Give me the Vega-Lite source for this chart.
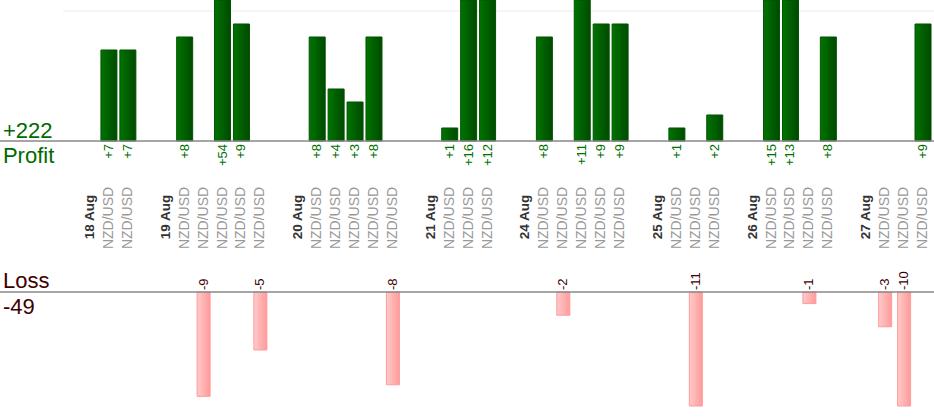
{
  "$schema": "https://vega.github.io/schema/vega-lite/v6.json",
  "width": 934,
  "height": 420,
  "padding": 0,
  "autosize": {"type": "none"},
  "datasets": {
    "trades": [
      {"slot": 1, "date": "18 Aug", "pair": "NZD/USD", "pnl": 7},
      {"slot": 2, "date": "18 Aug", "pair": "NZD/USD", "pnl": 7},
      {"slot": 5, "date": "19 Aug", "pair": "NZD/USD", "pnl": 8},
      {"slot": 6, "date": "19 Aug", "pair": "NZD/USD", "pnl": -9},
      {"slot": 7, "date": "19 Aug", "pair": "NZD/USD", "pnl": 54},
      {"slot": 8, "date": "19 Aug", "pair": "NZD/USD", "pnl": 9},
      {"slot": 9, "date": "19 Aug", "pair": "NZD/USD", "pnl": -5},
      {"slot": 12, "date": "20 Aug", "pair": "NZD/USD", "pnl": 8},
      {"slot": 13, "date": "20 Aug", "pair": "NZD/USD", "pnl": 4},
      {"slot": 14, "date": "20 Aug", "pair": "NZD/USD", "pnl": 3},
      {"slot": 15, "date": "20 Aug", "pair": "NZD/USD", "pnl": 8},
      {"slot": 16, "date": "20 Aug", "pair": "NZD/USD", "pnl": -8},
      {"slot": 19, "date": "21 Aug", "pair": "NZD/USD", "pnl": 1},
      {"slot": 20, "date": "21 Aug", "pair": "NZD/USD", "pnl": 16},
      {"slot": 21, "date": "21 Aug", "pair": "NZD/USD", "pnl": 12},
      {"slot": 24, "date": "24 Aug", "pair": "NZD/USD", "pnl": 8},
      {"slot": 25, "date": "24 Aug", "pair": "NZD/USD", "pnl": -2},
      {"slot": 26, "date": "24 Aug", "pair": "NZD/USD", "pnl": 11},
      {"slot": 27, "date": "24 Aug", "pair": "NZD/USD", "pnl": 9},
      {"slot": 28, "date": "24 Aug", "pair": "NZD/USD", "pnl": 9},
      {"slot": 31, "date": "25 Aug", "pair": "NZD/USD", "pnl": 1},
      {"slot": 32, "date": "25 Aug", "pair": "NZD/USD", "pnl": -11},
      {"slot": 33, "date": "25 Aug", "pair": "NZD/USD", "pnl": 2},
      {"slot": 36, "date": "26 Aug", "pair": "NZD/USD", "pnl": 15},
      {"slot": 37, "date": "26 Aug", "pair": "NZD/USD", "pnl": 13},
      {"slot": 38, "date": "26 Aug", "pair": "NZD/USD", "pnl": -1},
      {"slot": 39, "date": "26 Aug", "pair": "NZD/USD", "pnl": 8},
      {"slot": 42, "date": "27 Aug", "pair": "NZD/USD", "pnl": -3},
      {"slot": 43, "date": "27 Aug", "pair": "NZD/USD", "pnl": -10},
      {"slot": 44, "date": "27 Aug", "pair": "NZD/USD", "pnl": 9}
    ],
    "days": [
      {"slot": 0, "date": "18 Aug"},
      {"slot": 4, "date": "19 Aug"},
      {"slot": 11, "date": "20 Aug"},
      {"slot": 18, "date": "21 Aug"},
      {"slot": 23, "date": "24 Aug"},
      {"slot": 30, "date": "25 Aug"},
      {"slot": 35, "date": "26 Aug"},
      {"slot": 41, "date": "27 Aug"}
    ]
  },
  "layer": [
    {
      "layer": [
        {
          "data": {"values": [{}]},
          "mark": {"type": "rule", "color": "#ebebeb", "strokeWidth": 1},
          "encoding": {
            "x": {"datum": -1.43, "type": "quantitative", "scale": {"domain": [-4.754, 44.58], "nice": false, "padding": 0}, "axis": null},
            "x2": {"datum": 44.58},
            "y": {"datum": 10, "type": "quantitative", "scale": {"domain": [0, 10.846], "range": [141, 0], "clamp": true, "nice": false, "padding": 0}, "axis": null}
          }
        },
        {
          "data": {"name": "trades"},
          "transform": [{"filter": "datum.pnl > 0"}],
          "mark": {
            "type": "bar",
            "width": 16,
            "fill": {
              "gradient": "linear", "x1": 0, "y1": 0, "x2": 1, "y2": 0,
              "stops": [{"offset": 0, "color": "#007400"}, {"offset": 1, "color": "#004a00"}]
            },
            "stroke": "#005400",
            "strokeWidth": 1
          },
          "encoding": {
            "x": {"field": "slot", "type": "quantitative", "scale": {"domain": [-4.754, 44.58], "nice": false, "padding": 0}, "axis": null},
            "y": {"field": "pnl", "type": "quantitative", "scale": {"domain": [0, 10.846], "range": [141, 0], "clamp": true, "nice": false, "padding": 0}, "axis": null}
          }
        },
        {
          "data": {"values": [{}]},
          "mark": {"type": "rule", "color": "#888888", "strokeWidth": 1.5},
          "encoding": {
            "y": {"datum": 0, "type": "quantitative", "scale": {"domain": [0, 10.846], "range": [141, 0], "clamp": true, "nice": false, "padding": 0}, "axis": null}
          }
        },
        {
          "data": {"name": "trades"},
          "transform": [{"filter": "datum.pnl > 0"}],
          "mark": {"type": "text", "angle": 270, "align": "right", "baseline": "middle", "dx": -3, "fontSize": 13, "color": "#007000"},
          "encoding": {
            "x": {"field": "slot", "type": "quantitative", "scale": {"domain": [-4.754, 44.58], "nice": false, "padding": 0}, "axis": null},
            "y": {"datum": 0, "type": "quantitative", "scale": {"domain": [0, 10.846], "range": [141, 0], "clamp": true, "nice": false, "padding": 0}, "axis": null},
            "text": {"field": "pnl", "type": "quantitative", "format": "+d"}
          }
        },
        {
          "data": {"name": "trades"},
          "mark": {"type": "text", "angle": 270, "align": "center", "baseline": "middle", "dx": -77, "fontSize": 14, "color": "#999999"},
          "encoding": {
            "x": {"field": "slot", "type": "quantitative", "scale": {"domain": [-4.754, 44.58], "nice": false, "padding": 0}, "axis": null},
            "y": {"datum": 0, "type": "quantitative", "scale": {"domain": [0, 10.846], "range": [141, 0], "clamp": true, "nice": false, "padding": 0}, "axis": null},
            "text": {"field": "pair", "type": "nominal"}
          }
        },
        {
          "data": {"name": "days"},
          "mark": {"type": "text", "angle": 270, "align": "center", "baseline": "middle", "dx": -76, "fontSize": 13.5, "fontWeight": "bold", "color": "#333333"},
          "encoding": {
            "x": {"field": "slot", "type": "quantitative", "scale": {"domain": [-4.754, 44.58], "nice": false, "padding": 0}, "axis": null},
            "y": {"datum": 0, "type": "quantitative", "scale": {"domain": [0, 10.846], "range": [141, 0], "clamp": true, "nice": false, "padding": 0}, "axis": null},
            "text": {"field": "date", "type": "nominal"}
          }
        },
        {
          "data": {"name": "trades"},
          "transform": [
            {"filter": "datum.pnl > 0"},
            {"aggregate": [{"op": "sum", "field": "pnl", "as": "total"}]}
          ],
          "mark": {"type": "text", "align": "left", "baseline": "alphabetic", "dy": -3, "fontSize": 22, "color": "#006a00"},
          "encoding": {
            "x": {"datum": -4.6, "type": "quantitative", "scale": {"domain": [-4.754, 44.58], "nice": false, "padding": 0}, "axis": null},
            "y": {"datum": 0, "type": "quantitative", "scale": {"domain": [0, 10.846], "range": [141, 0], "clamp": true, "nice": false, "padding": 0}, "axis": null},
            "text": {"field": "total", "type": "quantitative", "format": "+d"}
          }
        },
        {
          "data": {"values": [{"label": "Profit"}]},
          "mark": {"type": "text", "align": "left", "baseline": "alphabetic", "dy": 22, "fontSize": 22, "color": "#006a00"},
          "encoding": {
            "x": {"datum": -4.6, "type": "quantitative", "scale": {"domain": [-4.754, 44.58], "nice": false, "padding": 0}, "axis": null},
            "y": {"datum": 0, "type": "quantitative", "scale": {"domain": [0, 10.846], "range": [141, 0], "clamp": true, "nice": false, "padding": 0}, "axis": null},
            "text": {"field": "label", "type": "nominal"}
          }
        }
      ]
    },
    {
      "layer": [
        {
          "data": {"name": "trades"},
          "transform": [{"filter": "datum.pnl < 0"}],
          "mark": {
            "type": "bar",
            "width": 13,
            "fill": {
              "gradient": "linear", "x1": 0, "y1": 0, "x2": 1, "y2": 0,
              "stops": [{"offset": 0, "color": "#ffcaca"}, {"offset": 1, "color": "#ff9a9a"}]
            },
            "stroke": "#ff9a9a",
            "strokeWidth": 1
          },
          "encoding": {
            "x": {"field": "slot", "type": "quantitative", "scale": {"domain": [-4.754, 44.58], "nice": false, "padding": 0}, "axis": null},
            "y": {"field": "pnl", "type": "quantitative", "scale": {"domain": [-9.83, 0], "range": [406, 292], "clamp": true, "nice": false, "padding": 0}, "axis": null}
          }
        },
        {
          "data": {"values": [{}]},
          "mark": {"type": "rule", "color": "#888888", "strokeWidth": 1.5},
          "encoding": {
            "y": {"datum": 0, "type": "quantitative", "scale": {"domain": [-9.83, 0], "range": [406, 292], "clamp": true, "nice": false, "padding": 0}, "axis": null}
          }
        },
        {
          "data": {"name": "trades"},
          "transform": [{"filter": "datum.pnl < 0"}],
          "mark": {"type": "text", "angle": 270, "align": "left", "baseline": "middle", "dx": 2, "fontSize": 13, "color": "#3c0000"},
          "encoding": {
            "x": {"field": "slot", "type": "quantitative", "scale": {"domain": [-4.754, 44.58], "nice": false, "padding": 0}, "axis": null},
            "y": {"datum": 0, "type": "quantitative", "scale": {"domain": [-9.83, 0], "range": [406, 292], "clamp": true, "nice": false, "padding": 0}, "axis": null},
            "text": {"field": "pnl", "type": "nominal"}
          }
        },
        {
          "data": {"values": [{"label": "Loss"}]},
          "mark": {"type": "text", "align": "left", "baseline": "alphabetic", "dy": -4, "fontSize": 22, "color": "#3c0000"},
          "encoding": {
            "x": {"datum": -4.6, "type": "quantitative", "scale": {"domain": [-4.754, 44.58], "nice": false, "padding": 0}, "axis": null},
            "y": {"datum": 0, "type": "quantitative", "scale": {"domain": [-9.83, 0], "range": [406, 292], "clamp": true, "nice": false, "padding": 0}, "axis": null},
            "text": {"field": "label", "type": "nominal"}
          }
        },
        {
          "data": {"name": "trades"},
          "transform": [
            {"filter": "datum.pnl < 0"},
            {"aggregate": [{"op": "sum", "field": "pnl", "as": "total"}]}
          ],
          "mark": {"type": "text", "align": "left", "baseline": "alphabetic", "dy": 22, "fontSize": 22, "color": "#3c0000"},
          "encoding": {
            "x": {"datum": -4.6, "type": "quantitative", "scale": {"domain": [-4.754, 44.58], "nice": false, "padding": 0}, "axis": null},
            "y": {"datum": 0, "type": "quantitative", "scale": {"domain": [-9.83, 0], "range": [406, 292], "clamp": true, "nice": false, "padding": 0}, "axis": null},
            "text": {"field": "total", "type": "nominal"}
          }
        }
      ]
    }
  ],
  "resolve": {"scale": {"y": "independent"}},
  "config": {
    "view": {"stroke": null},
    "font": "Liberation Sans"
  }
}
